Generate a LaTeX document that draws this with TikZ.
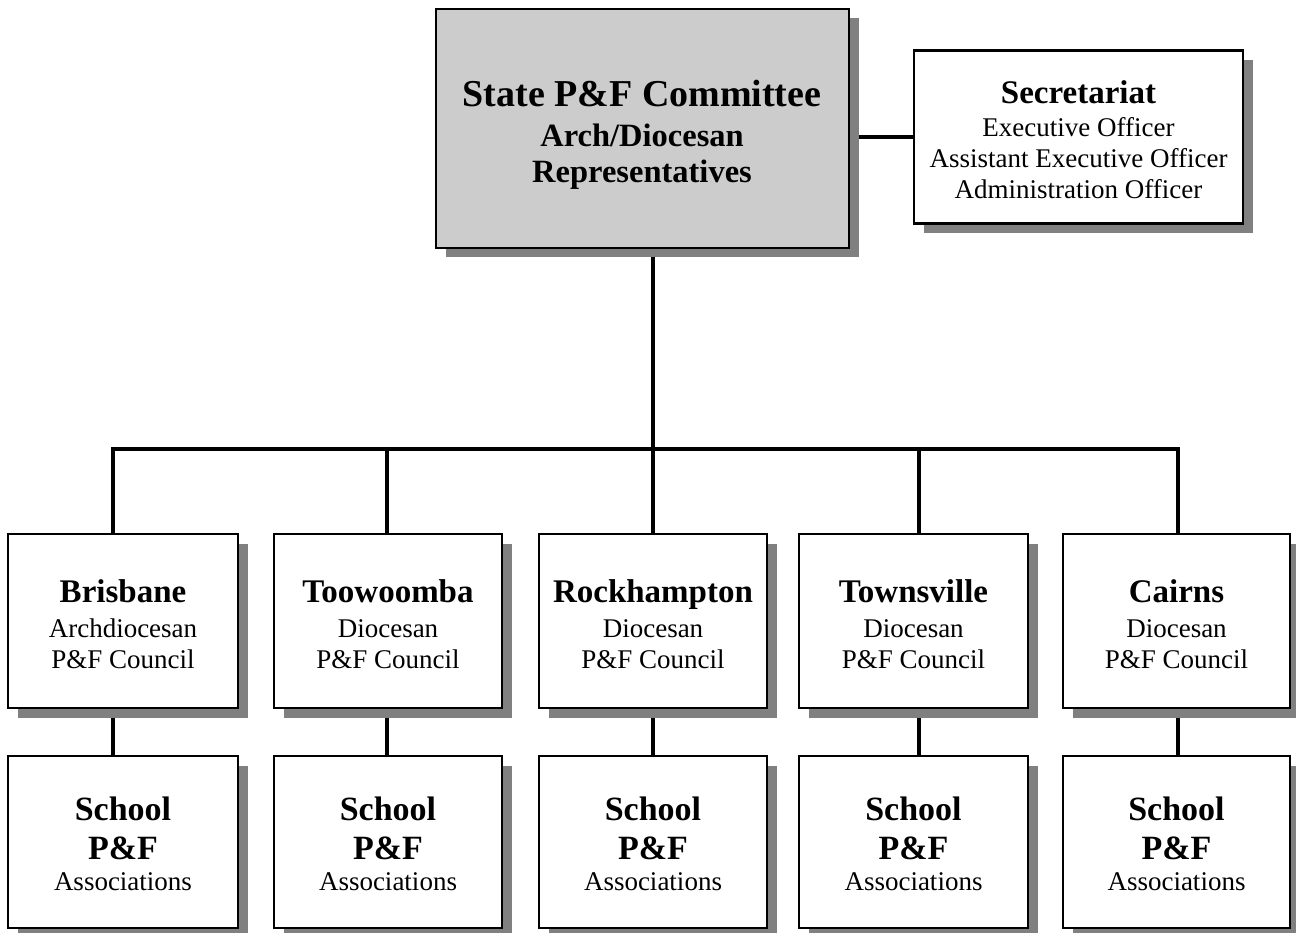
\documentclass[tikz,border=0pt]{standalone}
\usepackage{fontspec}
\setmainfont{Liberation Serif}
\usetikzlibrary{shadows}
\definecolor{boxgray}{RGB}{204,204,204}
\definecolor{shadowgray}{RGB}{128,128,128}
\pgfdeclarelayer{background}
\pgfsetlayers{background,main}
\begin{document}
\begin{tikzpicture}[x=1pt,y=-1pt,
  orgbox/.style={draw=black, line width=2.2pt, fill=white, inner sep=0pt, outer sep=0pt,
    drop shadow={shadow xshift=9.5pt, shadow yshift=-9.5pt, fill=shadowgray, opacity=1, draw=none}},
  conn/.style={draw=black, line width=3.2pt, line join=miter},
  txt/.style={anchor=base, inner sep=0pt, outer sep=0pt},
  bigb/.style={txt, font=\fontsize{38}{40}\selectfont\bfseries},
  midb/.style={txt, font=\fontsize{32.5}{34}\selectfont\bfseries},
  headb/.style={txt, font=\fontsize{33}{35}\selectfont\bfseries},
  schb/.style={txt, font=\fontsize{34}{36}\selectfont\bfseries},
  reg/.style={txt, font=\fontsize{27}{29}\selectfont}]
\useasboundingbox (0,0) rectangle (1296,933);

% stem coordinates on the bus
\coordinate (s1) at (113,449);
\coordinate (s2) at (387,449);
\coordinate (s3) at (653,449);
\coordinate (s4) at (919,449);
\coordinate (s5) at (1178,449);

% boxes
\node[orgbox, fill=boxgray, minimum width=413pt, minimum height=239pt] (top) at (642.5,128.5) {};
\node[orgbox, minimum width=329pt, minimum height=173pt] (sec) at (1078.5,137) {};
\foreach \i/\cx/\w in {1/123/230, 2/388/228, 3/653/228, 4/913.5/229, 5/1176.5/227}{
  \node[orgbox, minimum width=\w pt, minimum height=174pt] (reg\i) at (\cx,621) {};
  \node[orgbox, minimum width=\w pt, minimum height=172pt] (sch\i) at (\cx,842) {};
}

% connectors beneath boxes and shadows
\begin{pgfonlayer}{background}
\path[conn] (top.east |- sec.west) -- (sec.west);
\path[conn] (top.south -| s3) -- (s3);
\path[conn] (reg1.north -| s1) -- (s1) -- (s5) -- (reg5.north -| s5);
\foreach \i in {2,3,4}{
  \path[conn] (s\i) -- (reg\i.north -| s\i);
}
\foreach \i in {1,...,5}{
  \path[conn] (reg\i.south -| s\i) -- (sch\i.north -| s\i);
}
\end{pgfonlayer}

% texts: top box
\node[bigb] (t1) at (642,107) {State P\&F Committee};
\node[midb] (t2) at (642,147) {Arch/Diocesan};
\node[midb] (t3) at (642,183) {Representatives};

% secretariat
\node[headb] (e1) at (1078.5,104) {Secretariat};
\node[reg] (e2) at (1078.5,137) {Executive Officer};
\node[reg] (e3) at (1078.5,168) {Assistant Executive Officer};
\node[reg] (e4) at (1078.5,199) {Administration Officer};

% regions
\foreach \i/\cx/\nm/\kd in {1/123/Brisbane/Archdiocesan, 2/388/Toowoomba/Diocesan,
   3/653/Rockhampton/Diocesan, 4/913.5/Townsville/Diocesan, 5/1176.5/Cairns/Diocesan}{
  \node[headb] (rn\i) at (\cx,602) {\nm};
  \node[reg] (rk\i) at (\cx,637) {\kd};
  \node[reg] (rp\i) at (\cx,668) {P\&F Council};
  \node[schb] (k1\i) at (\cx,820) {School};
  \node[schb] (k2\i) at (\cx,859) {P\&F};
  \node[reg] (k3\i) at (\cx,890) {Associations};
}
\end{tikzpicture}
\end{document}
